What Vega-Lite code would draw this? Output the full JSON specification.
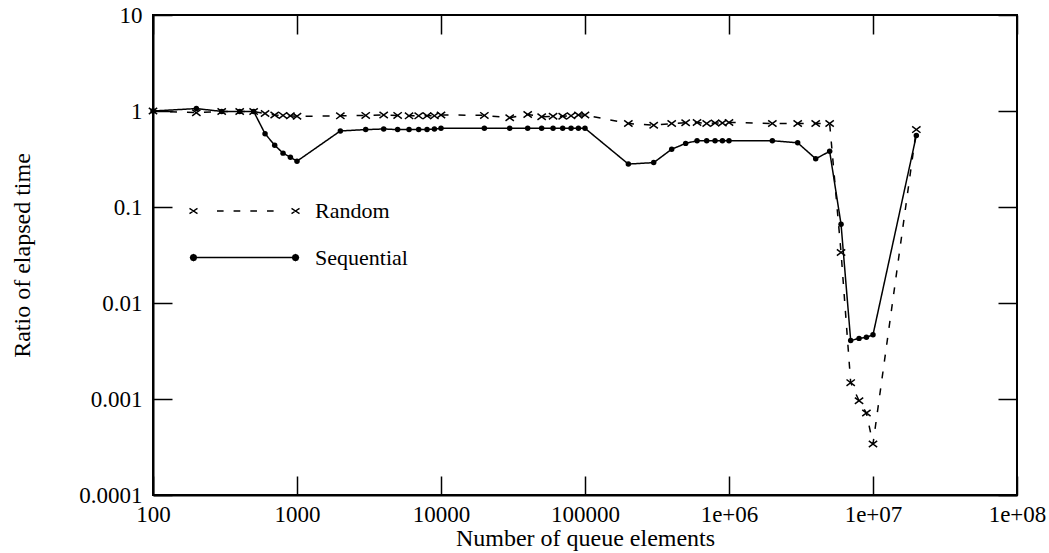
{
  "$schema": "https://vega.github.io/schema/vega-lite/v6.json",
  "width": 864,
  "height": 480,
  "autosize": {"type": "none"},
  "padding": {"left": 153, "top": 15, "right": 32, "bottom": 58},
  "background": "white",
  "config": {
    "view": {"stroke": "black", "strokeWidth": 2},
    "axis": {
      "labelFont": "Liberation Serif",
      "labelFontSize": 23,
      "labelColor": "black",
      "titleFont": "Liberation Serif",
      "titleFontSize": 24,
      "titleFontWeight": "normal",
      "titleColor": "black",
      "domainColor": "black",
      "domainWidth": 2,
      "tickColor": "black",
      "tickWidth": 1.5,
      "tickSize": -19,
      "grid": false,
      "labelFlush": false,
      "labelOverlap": false
    }
  },
  "data": {
    "values": [
      {"n": 100, "s": "Random", "v": 1.0},
      {"n": 200, "s": "Random", "v": 0.96},
      {"n": 300, "s": "Random", "v": 0.99},
      {"n": 400, "s": "Random", "v": 0.99},
      {"n": 500, "s": "Random", "v": 0.99},
      {"n": 600, "s": "Random", "v": 0.94},
      {"n": 700, "s": "Random", "v": 0.91},
      {"n": 800, "s": "Random", "v": 0.9},
      {"n": 900, "s": "Random", "v": 0.89},
      {"n": 1000, "s": "Random", "v": 0.88},
      {"n": 2000, "s": "Random", "v": 0.89},
      {"n": 3000, "s": "Random", "v": 0.9},
      {"n": 4000, "s": "Random", "v": 0.91},
      {"n": 5000, "s": "Random", "v": 0.9},
      {"n": 6000, "s": "Random", "v": 0.89},
      {"n": 7000, "s": "Random", "v": 0.89},
      {"n": 8000, "s": "Random", "v": 0.89},
      {"n": 9000, "s": "Random", "v": 0.89},
      {"n": 10000, "s": "Random", "v": 0.91},
      {"n": 20000, "s": "Random", "v": 0.9},
      {"n": 30000, "s": "Random", "v": 0.85},
      {"n": 40000, "s": "Random", "v": 0.92},
      {"n": 50000, "s": "Random", "v": 0.87},
      {"n": 60000, "s": "Random", "v": 0.88},
      {"n": 70000, "s": "Random", "v": 0.88},
      {"n": 80000, "s": "Random", "v": 0.89},
      {"n": 90000, "s": "Random", "v": 0.91},
      {"n": 100000, "s": "Random", "v": 0.91},
      {"n": 200000, "s": "Random", "v": 0.74},
      {"n": 300000, "s": "Random", "v": 0.71},
      {"n": 400000, "s": "Random", "v": 0.74},
      {"n": 500000, "s": "Random", "v": 0.755},
      {"n": 600000, "s": "Random", "v": 0.76},
      {"n": 700000, "s": "Random", "v": 0.74},
      {"n": 800000, "s": "Random", "v": 0.75},
      {"n": 900000, "s": "Random", "v": 0.75},
      {"n": 1000000, "s": "Random", "v": 0.76},
      {"n": 2000000, "s": "Random", "v": 0.74},
      {"n": 3000000, "s": "Random", "v": 0.74},
      {"n": 4000000, "s": "Random", "v": 0.74},
      {"n": 5000000, "s": "Random", "v": 0.74},
      {"n": 6000000, "s": "Random", "v": 0.0336},
      {"n": 7000000, "s": "Random", "v": 0.00148},
      {"n": 8000000, "s": "Random", "v": 0.00096},
      {"n": 9000000, "s": "Random", "v": 0.000714},
      {"n": 10000000, "s": "Random", "v": 0.00034},
      {"n": 20000000, "s": "Random", "v": 0.64},
      {"n": 100, "s": "Sequential", "v": 1.0},
      {"n": 200, "s": "Sequential", "v": 1.06},
      {"n": 300, "s": "Sequential", "v": 0.99},
      {"n": 400, "s": "Sequential", "v": 0.99},
      {"n": 500, "s": "Sequential", "v": 0.99},
      {"n": 600, "s": "Sequential", "v": 0.58},
      {"n": 700, "s": "Sequential", "v": 0.44},
      {"n": 800, "s": "Sequential", "v": 0.364},
      {"n": 900, "s": "Sequential", "v": 0.33},
      {"n": 1000, "s": "Sequential", "v": 0.3},
      {"n": 2000, "s": "Sequential", "v": 0.62},
      {"n": 3000, "s": "Sequential", "v": 0.64},
      {"n": 4000, "s": "Sequential", "v": 0.65},
      {"n": 5000, "s": "Sequential", "v": 0.64},
      {"n": 6000, "s": "Sequential", "v": 0.64},
      {"n": 7000, "s": "Sequential", "v": 0.64},
      {"n": 8000, "s": "Sequential", "v": 0.64},
      {"n": 9000, "s": "Sequential", "v": 0.65},
      {"n": 10000, "s": "Sequential", "v": 0.66},
      {"n": 20000, "s": "Sequential", "v": 0.66},
      {"n": 30000, "s": "Sequential", "v": 0.66},
      {"n": 40000, "s": "Sequential", "v": 0.66},
      {"n": 50000, "s": "Sequential", "v": 0.66},
      {"n": 60000, "s": "Sequential", "v": 0.66},
      {"n": 70000, "s": "Sequential", "v": 0.66},
      {"n": 80000, "s": "Sequential", "v": 0.66},
      {"n": 90000, "s": "Sequential", "v": 0.66},
      {"n": 100000, "s": "Sequential", "v": 0.66},
      {"n": 200000, "s": "Sequential", "v": 0.28},
      {"n": 300000, "s": "Sequential", "v": 0.29},
      {"n": 400000, "s": "Sequential", "v": 0.4},
      {"n": 500000, "s": "Sequential", "v": 0.46},
      {"n": 600000, "s": "Sequential", "v": 0.49},
      {"n": 700000, "s": "Sequential", "v": 0.49},
      {"n": 800000, "s": "Sequential", "v": 0.49},
      {"n": 900000, "s": "Sequential", "v": 0.49},
      {"n": 1000000, "s": "Sequential", "v": 0.49},
      {"n": 2000000, "s": "Sequential", "v": 0.49},
      {"n": 3000000, "s": "Sequential", "v": 0.466},
      {"n": 4000000, "s": "Sequential", "v": 0.318},
      {"n": 5000000, "s": "Sequential", "v": 0.38},
      {"n": 6000000, "s": "Sequential", "v": 0.066},
      {"n": 7000000, "s": "Sequential", "v": 0.00406},
      {"n": 8000000, "s": "Sequential", "v": 0.00428},
      {"n": 9000000, "s": "Sequential", "v": 0.00439},
      {"n": 10000000, "s": "Sequential", "v": 0.00467},
      {"n": 20000000, "s": "Sequential", "v": 0.557}
    ]
  },
  "resolve": {"axis": {"x": "independent", "y": "independent"}},
  "layer": [
    {
      "mark": {"type": "line", "color": "black", "strokeWidth": 1.5},
      "encoding": {
        "x": {
          "field": "n", "type": "quantitative",
          "scale": {"type": "log", "domain": [100, 100000000], "nice": false},
          "axis": {
            "orient": "bottom",
            "values": [100, 1000, 10000, 100000, 1000000, 10000000, 100000000],
            "labelExpr": "datum.value >= 1000000 ? '1e+0' + round(log(datum.value) / LN10) : format(datum.value, 'd')",
            "title": "Number of queue elements",
            "labelPadding": 27,
            "titlePadding": 0
          }
        },
        "y": {
          "field": "v", "type": "quantitative",
          "scale": {"type": "log", "domain": [0.0001, 10], "nice": false},
          "axis": {
            "orient": "left",
            "values": [0.0001, 0.001, 0.01, 0.1, 1, 10],
            "format": "~g",
            "title": "Ratio of elapsed time",
            "labelPadding": 30,
            "titlePadding": 44
          }
        },
        "strokeDash": {
          "field": "s", "type": "nominal",
          "scale": {"domain": ["Random", "Sequential"], "range": [[7, 10], [1, 0]]},
          "legend": {
            "orient": "none",
            "legendX": 35,
            "legendY": 185,
            "title": null,
            "padding": 0,
            "clipHeight": 22,
            "symbolSize": 12300,
            "symbolStrokeWidth": 1.5,
            "symbolStrokeColor": "black",
            "symbolFillColor": "black",
            "labelFont": "Liberation Serif",
            "labelFontSize": 22,
            "labelColor": "black",
            "labelOffset": 14,
            "rowPadding": 24.6,
            "encode": {
              "symbols": {
                "update": {
                  "shape": {"signal": "datum.value === 'Random' ? 'M-0.992,-0.048L-0.92,0M-0.92,0L-0.848,0.048M-0.992,0.048L-0.92,0M-0.92,0L-0.848,-0.048M0.848,-0.048L0.92,0M0.92,0L0.992,0.048M0.848,0.048L0.92,0M0.92,0L0.992,-0.048M-0.496,0L-0.377,0M-0.197,0L-0.076,0M0.105,0L0.225,0M0.406,0L0.525,0' : 'M-0.92,0L0.92,0M-0.866,0L-0.882,0.038L-0.92,0.054L-0.958,0.038L-0.974,0L-0.958,-0.038L-0.92,-0.054L-0.882,-0.038ZM0.974,0L0.958,0.038L0.92,0.054L0.882,0.038L0.866,0L0.882,-0.038L0.92,-0.054L0.958,-0.038Z'"},
                  "strokeDash": {"value": [1, 0]},
                  "fill": {"value": "black"},
                  "stroke": {"value": "black"},
                  "opacity": {"value": 1}
                }
              }
            }
          }
        }
      }
    },
    {
      "transform": [{"filter": "datum.s === 'Random'"}],
      "mark": {"type": "point", "shape": "M-1,-0.75L1,0.75M-1,0.75L1,-0.75", "size": 70, "filled": false, "stroke": "black", "strokeWidth": 1.5, "opacity": 1},
      "encoding": {
        "x": {
          "field": "n", "type": "quantitative",
          "scale": {"type": "log", "domain": [100, 100000000], "nice": false},
          "axis": {
            "orient": "top",
            "values": [100, 1000, 10000, 100000, 1000000, 10000000, 100000000],
            "labels": false, "domain": false, "title": null
          }
        },
        "y": {
          "field": "v", "type": "quantitative",
          "scale": {"type": "log", "domain": [0.0001, 10], "nice": false},
          "axis": {
            "orient": "right",
            "values": [0.0001, 0.001, 0.01, 0.1, 1, 10],
            "labels": false, "domain": false, "title": null
          }
        }
      }
    },
    {
      "transform": [{"filter": "datum.s === 'Sequential'"}],
      "mark": {"type": "circle", "size": 30, "color": "black", "opacity": 1},
      "encoding": {
        "x": {"field": "n", "type": "quantitative", "scale": {"type": "log", "domain": [100, 100000000], "nice": false}, "axis": null},
        "y": {"field": "v", "type": "quantitative", "scale": {"type": "log", "domain": [0.0001, 10], "nice": false}, "axis": null}
      }
    }
  ]
}
